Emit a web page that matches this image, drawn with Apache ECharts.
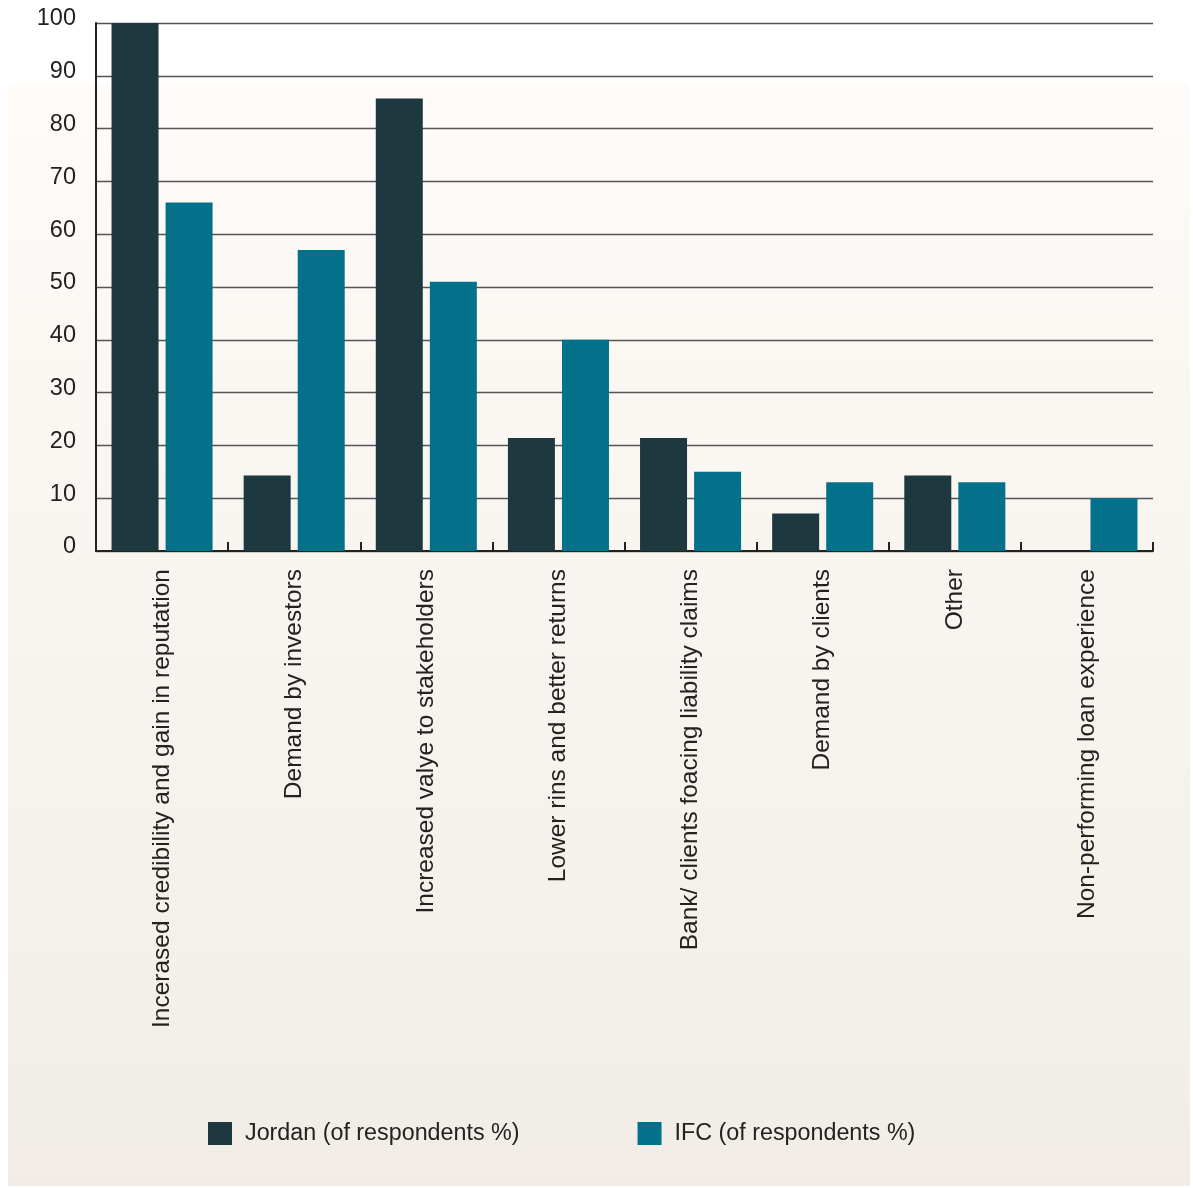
<!DOCTYPE html>
<html>
<head>
<meta charset="utf-8">
<script src="https://cdn.jsdelivr.net/npm/echarts@6/dist/echarts.min.js"></script>
<style>
  html, body { margin: 0; padding: 0; background: #ffffff; }
  #chart { width: 1193px; height: 1188px; }
</style>
</head>
<body>
<div id="chart"></div>
<script>
// Reasons for adopting environmental & social risk management
const categories = [
  'Incerased credibility and gain in reputation',
  'Demand by investors',
  'Increased valye to stakeholders',
  'Lower rins and better returns',
  'Bank/ clients foacing liability claims',
  'Demand by clients',
  'Other',
  'Non-performing loan experience'
];
const jordanValues = [100, 14.3, 85.7, 21.4, 21.4, 7.1, 14.3, 0];
const ifcValues = [66, 57, 51, 40, 15, 13, 13, 10];
const seriesNames = ['Jordan (of respondents %)', 'IFC (of respondents %)'];

const FONT = '"Liberation Sans", Arial, Helvetica, sans-serif';

const chart = echarts.init(document.getElementById('chart'));
chart.setOption({
  animation: false,
  backgroundColor: 'transparent',
  graphic: [{
    type: 'rect',
    z: -10,
    silent: true,
    shape: { x: 8, y: 83, width: 1182, height: 1103 },
    style: {
      fill: new echarts.graphic.LinearGradient(0, 0, 0, 1, [
        { offset: 0, color: '#fefbf8' },
        { offset: 1, color: '#f1ede6' }
      ])
    }
  }],
  grid: { left: 96, right: 40, top: 23, bottom: 637, containLabel: false },
  legend: {
    left: 208,
    top: 1122,
    padding: 0,
    icon: 'rect',
    itemWidth: 24,
    itemHeight: 23,
    itemGap: 118,
    textStyle: { fontFamily: FONT, fontSize: 23.3, color: '#222', padding: [0, 0, 0, 8] },
    data: seriesNames
  },
  xAxis: {
    type: 'category',
    data: categories,
    axisLine: { show: true, lineStyle: { color: '#222', width: 2 } },
    axisTick: { show: true, inside: true, length: 9, lineStyle: { color: '#222', width: 2 } },
    axisLabel: {
      rotate: 90,
      interval: 0,
      margin: 18,
      fontFamily: FONT,
      fontSize: 24.5,
      color: '#222'
    }
  },
  yAxis: {
    type: 'value',
    min: 0,
    max: 100,
    interval: 10,
    axisLine: { show: true, lineStyle: { color: '#222', width: 2 } },
    axisTick: { show: false },
    axisLabel: {
      margin: 20,
      fontFamily: FONT,
      fontSize: 23.5,
      color: '#222',
      verticalAlign: 'bottom',
      lineHeight: 8
    },
    splitLine: { show: true, lineStyle: { color: '#555', width: 1.3 } }
  },
  series: [
    {
      name: seriesNames[0],
      type: 'bar',
      data: jordanValues,
      barWidth: 47,
      barGap: '15%',
      itemStyle: { color: '#1d393f' }
    },
    {
      name: seriesNames[1],
      type: 'bar',
      data: ifcValues,
      barWidth: 47,
      itemStyle: { color: '#04718b' }
    }
  ]
});
</script>
</body>
</html>
